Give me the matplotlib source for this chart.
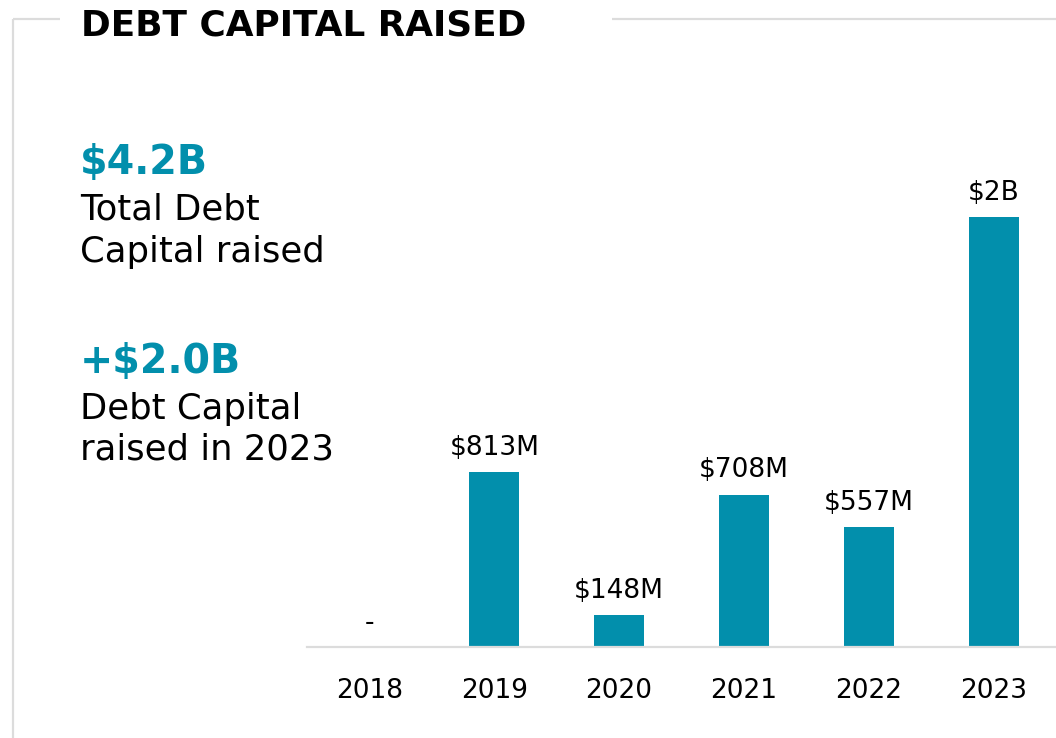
import matplotlib
matplotlib.use("Agg")
import matplotlib.pyplot as plt
from matplotlib.lines import Line2D

years = ["2018", "2019", "2020", "2021", "2022", "2023"]
values = [0, 813, 148, 708, 557, 2000]
labels = ["-", "$813M", "$148M", "$708M", "$557M", "$2B"]
title = "DEBT CAPITAL RAISED"
kpi1_value = "$4.2B"
kpi1_lines = ["Total Debt", "Capital raised"]
kpi2_value = "+$2.0B"
kpi2_lines = ["Debt Capital", "raised in 2023"]

TEAL = "#028fac"
GRAY = "#dcdcdc"
FONT = "DejaVu Sans"

W, H = 1056, 738
fig = plt.figure(figsize=(W / 100, H / 100), dpi=100)
fig.patch.set_facecolor("white")


def fx(x):
    return x / W


def fy(y):
    return 1 - y / H


# frame lines
for xs, ys in [((13, 13), (19, 738)), ((13, 60), (19, 19)), ((612, 1056), (19, 19))]:
    fig.add_artist(Line2D([fx(v) for v in xs], [fy(v) for v in ys], color=GRAY, lw=1.6,
                          transform=fig.transFigure, solid_capstyle="butt"))

fig.text(fx(81), fy(36), title, fontsize=25.8, fontweight="bold", family=FONT,
         color="black", va="baseline", ha="left")


def kpi(value, lines, y_val, y_lines):
    fig.text(fx(80), fy(y_val), value, fontsize=28.5, fontweight="bold", family=FONT,
             color=TEAL, va="baseline", ha="left")
    for line, yl in zip(lines, y_lines):
        fig.text(fx(80), fy(yl), line, fontsize=25.5, family=FONT, color="black",
                 va="baseline", ha="left")


kpi(kpi1_value, kpi1_lines, 174, [220, 262])
kpi(kpi2_value, kpi2_lines, 373, [419, 460])

# axes: baseline at y=647, 2000 at y=217
ax_bottom = 647
ax_top = 100
ymax = 2000 * (ax_bottom - ax_top) / (647 - 217)
ax = fig.add_axes([fx(307), fy(ax_bottom), fx(1056) - fx(307), (ax_bottom - ax_top) / H])
ax.set_facecolor("none")
x = list(range(len(years)))
ax.bar(x, values, width=0.4, color=TEAL)
ax.set_xlim(-0.5, 5.5)
ax.set_ylim(0, ymax)
for xi, v, lab in zip(x, values, labels):
    ax.annotate(lab, (xi, v), xytext=(0, 12.5), textcoords="offset points",
                ha="center", va="baseline", fontsize=19, family=FONT, color="black")
ax.set_xticks(x)
ax.set_xticklabels(years, fontsize=19, family=FONT)
ax.tick_params(axis="x", length=0, pad=22)
ax.set_yticks([])
for s in ["top", "right", "left"]:
    ax.spines[s].set_visible(False)
ax.spines["bottom"].set_color(GRAY)
ax.spines["bottom"].set_linewidth(1.6)

fig.savefig("out.png", dpi=100, facecolor="white")
